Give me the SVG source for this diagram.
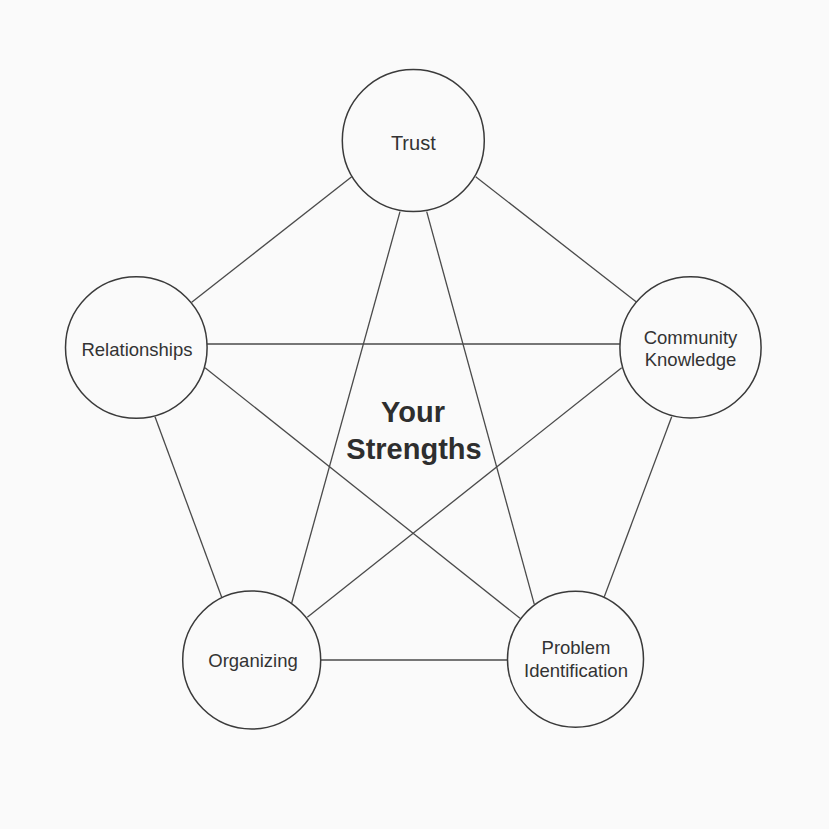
<svg xmlns="http://www.w3.org/2000/svg" width="829" height="829" viewBox="0 0 829 829">
  <style>
    .bg { fill: #fafafa; }
    .node { fill: #fafafa; stroke: #3a3a3a; stroke-width: 1.5; }
    .edge { stroke: #4a4a4a; stroke-width: 1.3; fill: none; }
    .lbl { font-family: "Liberation Sans", Arial, Helvetica, sans-serif; font-size: 18.5px; fill: #333; text-anchor: middle; }
    .title { font-family: "Liberation Sans", Arial, Helvetica, sans-serif; font-size: 29px; font-weight: bold; fill: #2e2e2e; text-anchor: middle; }
  </style>
  <rect class="bg" x="0" y="0" width="829" height="829"/>
  <g id="connectors">
    <line class="edge" x1="351.7" y1="176.7" x2="191.7" y2="302.3"/>
    <line class="edge" x1="475.7" y1="176.7" x2="636.7" y2="302.3"/>
    <line class="edge" x1="400" y1="211.7" x2="291.7" y2="603"/>
    <line class="edge" x1="426.7" y1="211.7" x2="534.3" y2="604.3"/>
    <line class="edge" x1="671.7" y1="416.7" x2="604.3" y2="596.7"/>
    <line class="edge" x1="155" y1="416.7" x2="221.7" y2="597.3"/>
    <line class="edge" x1="207" y1="344" x2="620" y2="344"/>
    <line class="edge" x1="205" y1="367.7" x2="520" y2="618.3"/>
    <line class="edge" x1="621.7" y1="367.7" x2="307.3" y2="617.3"/>
    <line class="edge" x1="320.7" y1="660" x2="507.7" y2="660"/>
  </g>
  <g id="trust">
    <circle class="node" cx="413.3" cy="140.5" r="71"/>
    <text class="lbl" x="413.3" y="150" style="font-size:20px">Trust</text>
  </g>
  <g id="relationships">
    <circle class="node" cx="136.3" cy="347.5" r="70.8"/>
    <text class="lbl" x="137" y="355.7">Relationships</text>
  </g>
  <g id="community-knowledge">
    <circle class="node" cx="690.5" cy="347.4" r="70.6"/>
    <text class="lbl" x="690.5" y="344">Community</text>
    <text class="lbl" x="690.5" y="366">Knowledge</text>
  </g>
  <g id="organizing">
    <circle class="node" cx="251.7" cy="660" r="69"/>
    <text class="lbl" x="253" y="667.3">Organizing</text>
  </g>
  <g id="problem-identification">
    <circle class="node" cx="575.5" cy="659.2" r="68"/>
    <text class="lbl" x="576" y="654">Problem</text>
    <text class="lbl" x="576" y="677.3">Identification</text>
  </g>
  <g id="center">
    <text class="title" x="413" y="422.3">Your</text>
    <text class="title" x="414" y="459">Strengths</text>
  </g>
</svg>
